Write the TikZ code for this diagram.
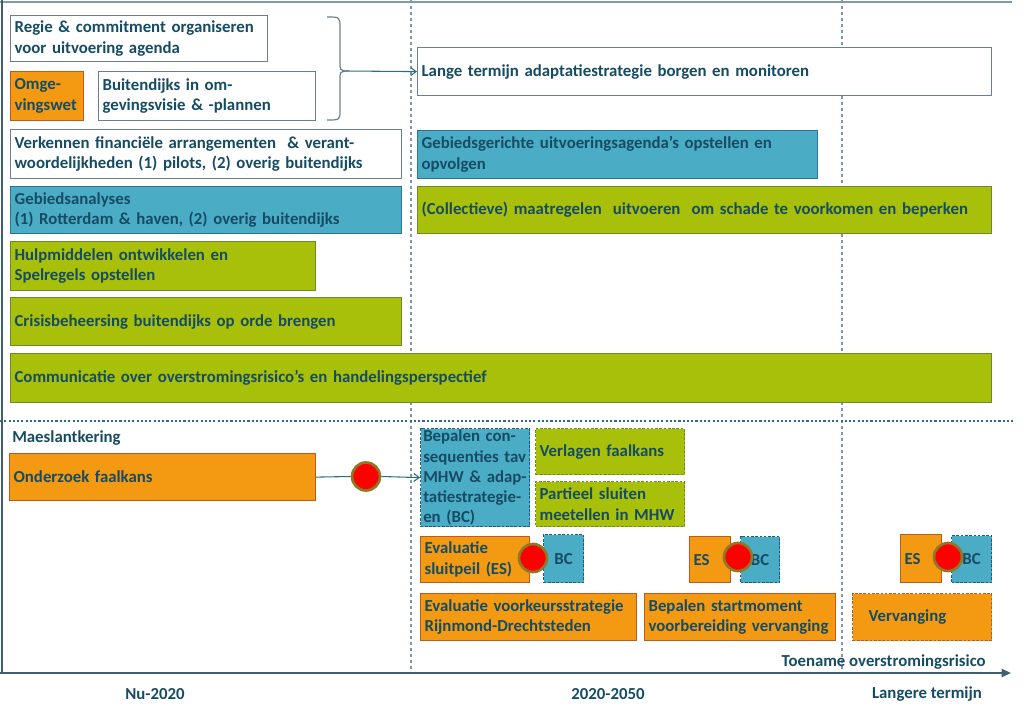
\documentclass[tikz,border=0pt]{standalone}
\usepackage{fontspec}
\setmainfont{Carlito}
\usetikzlibrary{arrows.meta}
\definecolor{txt}{HTML}{164C63}
\definecolor{orgF}{HTML}{F39A12}
\definecolor{orgD}{HTML}{BE5A1E}
\definecolor{bluF}{HTML}{4BACC6}
\definecolor{bluD}{HTML}{2E7690}
\definecolor{bluDash}{HTML}{1F5A80}
\definecolor{grnF}{HTML}{A8C00A}
\definecolor{grnD}{HTML}{6E8A2A}
\definecolor{whtD}{HTML}{6B8088}
\definecolor{frameD}{HTML}{3E5F6B}
\definecolor{frameL}{HTML}{7F9CA6}
\definecolor{vline}{HTML}{7F96A8}
\definecolor{hline}{HTML}{2F6E80}
\definecolor{ringD}{HTML}{8E7A24}
\tikzset{
  lbl/.style={font=\bfseries\fontsize{12.6}{15.6}\selectfont, text=txt, inner sep=0pt},
  box/.style={lbl, draw, line width=0.9pt, anchor=north west, inner xsep=3pt, inner ysep=0pt, align=left},
  sz/.style n args={2}{minimum width={#1*0.75pt}, minimum height={#2*0.75pt}, text width={#1*0.75pt-6pt}},
  wbox/.style={box, fill=white, draw=whtD},
  obox/.style={box, fill=orgF, draw=orgD},
  bbox/.style={box, fill=bluF, draw=bluD},
  gbox/.style={box, fill=grnF, draw=grnD},
  dashbox/.style={dash pattern=on 2pt off 1.2pt},
  bdbox/.style={box, fill=bluF, draw=bluDash, dashbox},
  gdbox/.style={box, fill=grnF, draw=grnD, dashbox},
  odbox/.style={box, fill=orgF, draw=orgD, dashbox},
  ctext/.style={align=center},
  ring/.style={circle, fill=red, draw=ringD, line width=2pt, minimum size=21pt, inner sep=0pt},
  conn/.style={draw=hline, line width=0.8pt},
}
\begin{document}
\begin{tikzpicture}[x=0.75pt, y=-0.75pt]
\useasboundingbox (0,0) rectangle (1024,717);
% frame and grid lines
\draw[vline, line width=0.8pt, dash pattern=on 2.5pt off 2pt] (411,0) -- (411,672);
\draw[vline, line width=0.8pt, dash pattern=on 2.5pt off 2pt] (842,0) -- (842,672);
\draw[frameL, line width=1.2pt] (0,2) -- (1012,2);
\draw[frameD, line width=1.5pt] (2,0) -- (2,673);
\draw[hline, line width=1.6pt, dash pattern=on 1.6pt off 1.6pt] (0,421) -- (1015,421);

% upper boxes
\node[wbox, sz={257}{46}] (regie) at (10,15) {Regie \& commitment organiseren\\voor uitvoering agenda};
\node[obox, sz={73}{49}] (omge) at (10,71) {Omge-\\vingswet};
\node[wbox, sz={217}{49}] (buiten) at (98,71) {Buitendijks in om-\\gevingsvisie \& -plannen};
\node[wbox, sz={574}{48}] (lange) at (417,47) {Lange termijn adaptatiestrategie borgen en monitoren};
\node[wbox, sz={391}{49}] (verken) at (10,129) {Verkennen financiële arrangementen \ \& verant-\\woordelijkheden (1) pilots, (2) overig buitendijks};
\node[bbox, sz={400}{48}] (gebger) at (417,130) {Gebiedsgerichte uitvoeringsagenda’s opstellen en\\opvolgen};
\node[bbox, sz={391}{47}] (gebana) at (10,186) {Gebiedsanalyses\\(1) Rotterdam \& haven, (2) overig buitendijks};
\node[gbox, sz={574}{47}] (collec) at (417,186) {(Collectieve) maatregelen \ uitvoeren \ om schade te voorkomen en beperken};
\node[gbox, sz={305}{49}] (hulp) at (10,241) {Hulpmiddelen ontwikkelen en\\Spelregels opstellen};
\node[gbox, sz={391}{48}] (crisis) at (10,297) {Crisisbeheersing buitendijks op orde brengen};
\node[gbox, sz={981}{49}] (comm) at (10,353) {Communicatie over overstromingsrisico’s en handelingsperspectief};

% brace and arrow
\coordinate (bt) at (346,71);
\draw[whtD, line width=0.9pt] (327,17) .. controls (340,17) .. (340,28) -- (340,62) .. controls (340,70) .. (bt) .. controls (340,72) .. (340,80) -- (340,110) .. controls (340,120) .. (327,120);
\draw[conn, -{Straight Barb[length=4pt, width=6pt]}] (bt) -- (lange.west);

% lower section
\node[lbl, anchor=west] (maes) at (12,438) {Maeslantkering};
\node[obox, sz={306}{47}] (onder) at (9,453) {Onderzoek faalkans};
\node[bdbox, sz={109}{98}, inner xsep=2pt, text width=77.75pt, font=\bfseries\fontsize{12.6}{15.1}\selectfont] (bepalen) at (420,428) {\mbox{Bepalen con-}\\\mbox{sequenties tav}\\\mbox{MHW \& adap-}\\\mbox{tatiestrategie-}\\\mbox{en (BC)}};
\node[gdbox, sz={149}{46}] (verlag) at (535,428) {Verlagen faalkans};
\node[gdbox, sz={149}{45}] (partieel) at (535,481) {Partieel sluiten\\meetellen in MHW};
\node[obox, sz={109}{46}] (evsl) at (420,536) {Evaluatie\\sluitpeil (ES)};
\node[bdbox, sz={40}{48}, ctext] (bc1) at (543,534) {BC};
\node[obox, sz={41}{46}] (es2) at (689,536) {ES};
\node[bdbox, sz={39}{46}, ctext] (bc2) at (740,536) {BC};
\node[obox, sz={216}{47}] (evvk) at (420,593) {Evaluatie voorkeursstrategie\\Rijnmond-Drechtsteden};
\node[obox, sz={191}{47}] (startm) at (644,593) {Bepalen startmoment\\voorbereiding vervanging};
\node[obox, sz={41}{48}] (es3) at (900,534) {ES};
\node[bdbox, sz={40}{47}, ctext] (bc3) at (951,535) {BC};
\node[odbox, sz={139}{47}] (verv) at (852,593) {\hspace*{9pt}Vervanging};

\node[ring] (c1) at (366,476.5) {};
\node[ring] (c2) at (533,558) {};
\node[ring] (c3) at (738,557) {};
\node[ring] (c4) at (948,557) {};
\draw[conn] (onder.east) -- (c1.west);
\draw[conn, -{Straight Barb[length=4pt, width=6pt]}] (c1.east) -- (bepalen.west);

% axis
\coordinate (ax0) at (0,673);
\coordinate (ax1) at (1011,673);
\draw[frameD, line width=1.5pt, -{Triangle[length=7pt, width=6pt]}] (ax0) -- (ax1);
\node[lbl, anchor=east] (toename) at (986,662) {Toename overstromingsrisico};
\node[lbl] (t1) at (155,694) {Nu-2020};
\node[lbl] (t2) at (608,694) {2020-2050};
\node[lbl] (t3) at (927,694) {Langere termijn};
\end{tikzpicture}
\end{document}
